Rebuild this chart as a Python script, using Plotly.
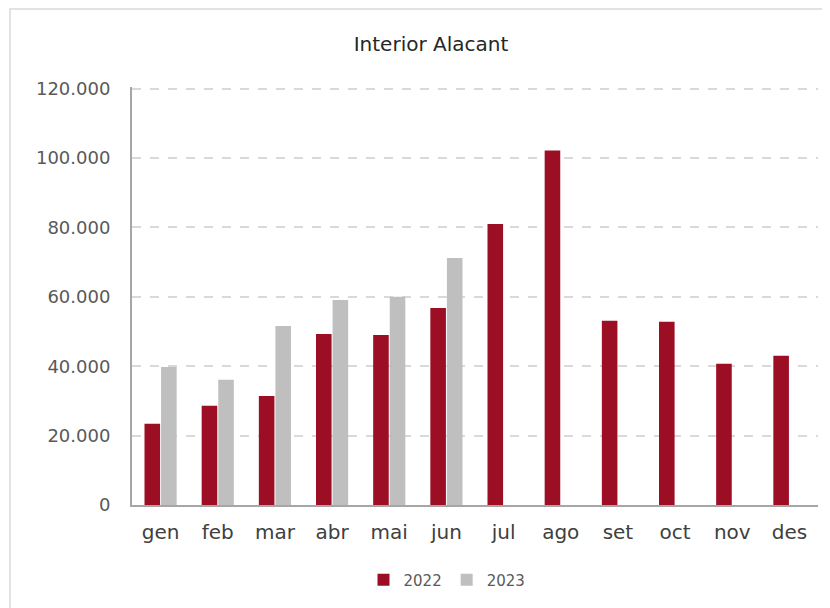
import plotly.graph_objects as go

months = ["gen", "feb", "mar", "abr", "mai", "jun", "jul", "ago", "set", "oct", "nov", "des"]
v2022 = [23400, 28600, 31400, 49300, 49000, 56800, 81000, 102200, 53100, 52800, 40700, 43000]
v2023 = [39800, 36100, 51600, 59100, 60000, 71200, None, None, None, None, None, None]
yticks = [0, 20000, 40000, 60000, 80000, 100000, 120000]

# layout geometry (figure pixel coords)
L, R, T, B = 124, 20, 79, 111
W = 830 - L - R
H = 608 - T - B

fig = go.Figure()
fig.add_trace(go.Bar(x=months, y=v2022, name="2022", marker=dict(color="#9c0e24", line=dict(width=0))))
fig.add_trace(go.Bar(x=months, y=v2023, name="2023", marker=dict(color="#bfbfbf", line=dict(width=0))))

fig.update_layout(
    width=830, height=608,
    paper_bgcolor="white", plot_bgcolor="white",
    separators=",.",
    margin=dict(l=L, r=R, t=T, b=B, autoexpand=False),
    barmode="group", bargap=0.42, bargroupgap=0.06,
    font=dict(family="DejaVu Sans, sans-serif", color="#404040"),
    title=dict(text="Interior Alacant", x=423 / 830, xanchor="center", y=1 - 36 / 608, yanchor="middle",
               font=dict(size=20, color="#262626")),
    xaxis=dict(showline=True, linecolor="#a6a6a6", linewidth=2, ticks="",
               tickfont=dict(size=20, color="#404040"), showgrid=False, ticklabelstandoff=8),
    yaxis=dict(range=[0, 120500], tickvals=yticks, tickformat=",.0f",
               showline=True, linecolor="#a6a6a6", linewidth=2,
               showgrid=True, gridcolor="#d9d9d9", griddash="dash", gridwidth=1.5,
               zeroline=False, ticks="", ticklen=0, ticklabelstandoff=16,
               tickfont=dict(size=18, color="#595959")),
    legend=dict(orientation="h", x=(439 - L) / W, xanchor="center", y=(608 - B - 572) / H, yanchor="middle",
                font=dict(size=15, color="#595959"), itemwidth=30, tracegroupgap=0),
    shapes=[dict(type="rect", xref="paper", yref="paper",
                 x0=(2 - L) / W, x1=(840 - L) / W,
                 y0=(608 - B - 620) / H, y1=(608 - B - 1) / H,
                 line=dict(color="#d9d9d9", width=1.5), fillcolor="rgba(0,0,0,0)", layer="below")],
)

fig.write_html("out.html")
